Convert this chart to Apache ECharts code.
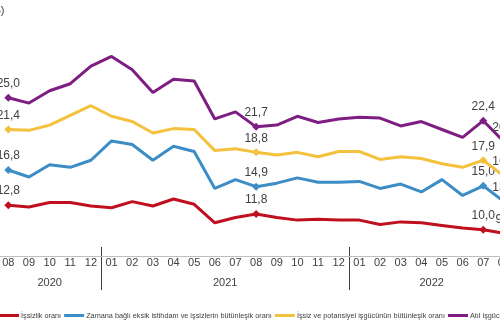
<!DOCTYPE html>
<html>
<head>
<meta charset="utf-8">
<script src="https://cdn.jsdelivr.net/npm/echarts@6/dist/echarts.min.js"></script>
<style>
html,body{margin:0;padding:0;width:500px;height:335px;overflow:hidden;background:#fff;}
#c{position:absolute;left:-40px;top:0;width:900px;height:335px;}
</style>
</head>
<body>
<div id="c"></div>
<script>
const months = ['08','09','10','11','12','01','02','03','04','05','06','07','08','09','10','11','12','01','02','03','04','05','06','07','08'];
const years = ['2020','2020','2020','2020','2020','2021','2021','2021','2021','2021','2021','2021','2021','2021','2021','2021','2021','2022','2022','2022','2022','2022','2022','2022','2022'];
const seriesNames = ['İşsizlik oranı','Zamana bağlı eksik istihdam ve işsizlerin bütünleşik oranı','İşsiz ve potansiyel işgücünün bütünleşik oranı','Atıl işgücü oranı'];
const issizlik   = [12.8,12.6,13.1,13.1,12.7,12.5,13.2,12.7,13.5,12.9,10.8,11.4,11.8,11.4,11.1,11.2,11.1,11.1,10.6,10.9,10.8,10.5,10.2,10.0,9.6];
const zamana     = [16.8,16.0,17.4,17.1,17.9,20.1,19.7,17.9,19.5,18.9,14.7,15.7,14.9,15.3,15.9,15.4,15.4,15.5,14.7,15.2,14.3,15.7,13.9,15.0,13.2];
const potansiyel = [21.4,21.3,21.9,23.0,24.1,22.9,22.3,21.0,21.5,21.4,19.0,19.2,18.8,18.5,18.8,18.3,18.9,18.9,18.0,18.3,18.1,17.5,17.1,17.9,16.1];
const atil       = [25.0,24.4,25.8,26.6,28.6,29.7,28.2,25.6,27.1,26.9,22.6,23.4,21.7,21.9,22.9,22.2,22.6,22.8,22.7,21.8,22.3,21.4,20.5,22.4,20.0];
const labeledIdx = [0,12,23,24];
const colors = ['#C0101F','#3C8DC6','#F4C13C','#7E1E82'];
const OX = 40;
const FONT = '"Liberation Sans Narrow","Liberation Sans",Arial,sans-serif';

function mk(vals){
  return vals.map((v,i)=> labeledIdx.indexOf(i)>=0
    ? {value:v, symbol:'diamond', symbolSize:8, label:{show:true}}
    : {value:v, symbol:'none'});
}
const allData=[issizlik,zamana,potansiyel,atil];
const chart = echarts.init(document.getElementById('c'), null, {renderer:'canvas'});
const option = {
  animation:false,
  grid:{left:OX-2, width:516.25, top:9.8, height:246.4, containLabel:false},
  xAxis:{type:'category', data:months, boundaryGap:true,
    axisLine:{show:true, lineStyle:{color:'#BFBFBF', width:1}},
    axisTick:{show:false},
    axisLabel:{color:'#404040', fontSize:11, fontFamily:FONT, margin:1, interval:0}},
  yAxis:{type:'value', min:7, max:35, show:false, splitLine:{show:false}},
  legend:{left:OX-6, top:307, icon:'rect', itemWidth:20, itemHeight:3, itemGap:3,
    textStyle:{color:'#404040', fontSize:7.3, fontFamily:FONT, padding:[0,0,0,-3]},
    data:seriesNames},
  series: seriesNames.map((n,k)=>({
    name:n, type:'line', data:mk(allData[k]), symbol:'none',
    lineStyle:{color:colors[k], width:3}, itemStyle:{color:colors[k]},
    label:{show:false, position:'top', distance:4, color:'#404040', fontSize:12, fontFamily:FONT,
      formatter:p=>p.value.toFixed(1).replace('.',',')},
    z:2+k
  }))
};
chart.setOption(option);

// year labels and dividers positioned via the axis scale
const px = i => chart.convertToPixel({xAxisIndex:0}, i);
const uniqYears = [...new Set(years)];
const graphics = [];
graphics.push({type:'text', right: 900-(OX+4.5), top:5, style:{text:'(%)', fill:'#404040', font:'11px '+FONT}});
uniqYears.forEach(y=>{
  const first = years.indexOf(y), last = years.lastIndexOf(y);
  const cx = (px(first)+px(last))/2;
  graphics.push({type:'text', x:cx, y:283, style:{text:y, fill:'#404040', font:'11px '+FONT, align:'center', verticalAlign:'middle'}});
  if(first>0){
    const dx = Math.round((px(first-1)+px(first))/2)+0.5;
    graphics.push({type:'line', shape:{x1:dx,y1:247,x2:dx,y2:290}, style:{stroke:'#404040', lineWidth:1}});
  }
});
chart.setOption({graphic:graphics});
</script>
</body>
</html>
